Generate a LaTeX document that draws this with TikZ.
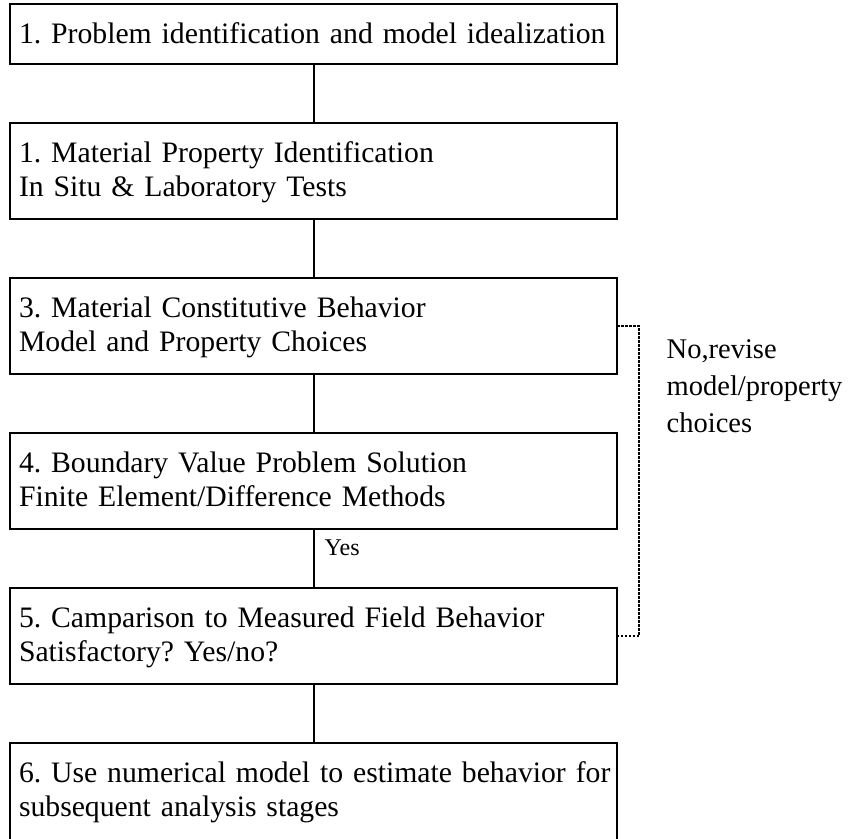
\documentclass[tikz,border=0pt]{standalone}
\usepackage{fontspec}
\setmainfont{Liberation Serif}
\begin{document}
\frenchspacing
\hyphenpenalty=10000
\exhyphenpenalty=10000
\begin{tikzpicture}[x=1pt,y=1pt,
  stepbox/.style={draw, line width=2pt, rectangle, anchor=north west,
    inner xsep=9pt, inner ysep=0pt, outer sep=0pt, text width=589pt,
    align=left, font=\fontsize{29.7}{34.5}\selectfont,
    text height=39pt, text depth=57pt},
  onebox/.style={stepbox, text depth=21pt},
  lastbox/.style={stepbox, text depth=60pt},
  link/.style={line width=2pt},
  loopback/.style={line width=2pt, dash pattern=on 2.5pt off 1.5pt},
  yeslbl/.style={anchor=base west, inner sep=0pt, font=\fontsize{24}{28}\selectfont},
  sidelbl/.style={anchor=base west, inner sep=0pt, align=left,
    font=\fontsize{28.5}{36.7}\selectfont}]
\useasboundingbox (0,0) rectangle (859,-838);

\node[onebox]  (b1) at (10,-4)   {\mbox{1. Problem identification and model idealization}};
\node[stepbox] (b2) at (10,-123) {1. Material Property Identification\\In Situ \& Laboratory Tests};
\node[stepbox] (b3) at (10,-278) {3. Material Constitutive Behavior\\Model and Property Choices};
\node[stepbox] (b4) at (10,-433) {4. Boundary Value Problem Solution\\Finite Element/Difference Methods};
\node[stepbox] (b5) at (10,-588) {5. Camparison to Measured Field Behavior\\Satisfactory? Yes/no?};
\node[lastbox] (b6) at (10,-743) {\mbox{6. Use numerical model to estimate behavior for}\\subsequent analysis stages};

\draw[link] (b1.south) -- (b2.north);
\draw[link] (b2.south) -- (b3.north);
\draw[link] (b3.south) -- (b4.north);
\draw[link] (b4.south) -- (b5.north);
\draw[link] (b5.south) -- (b6.north);

\node[yeslbl] (yes) at (324.5,-555) {Yes};

\draw[loopback] (b3.east) -- ++(22,0) coordinate (lb) |- (b5.east);
\node[sidelbl] (revise) at (666.5,-432) {No,revise\\model/property\\choices};
\end{tikzpicture}
\end{document}
